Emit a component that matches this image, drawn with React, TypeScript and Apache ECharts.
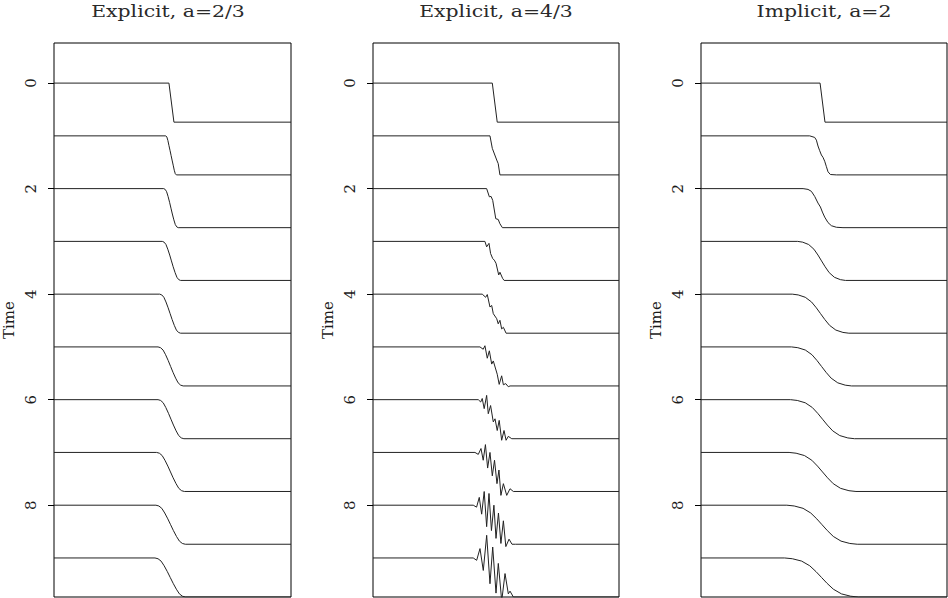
import React, { useEffect, useRef } from "react";
import * as echarts from "echarts";

// Panel titles
const TITLES = ["Explicit, a=2/3", "Explicit, a=4/3", "Implicit, a=2"];
// Trace times (one trace per time step)
const TIMES = [0, 1, 2, 3, 4, 5, 6, 7, 8, 9];
// Tick labels on the time axis
const TICK_VALUES = [0, 2, 4, 6, 8];
// Trace amplitude (time units for a unit step)
const AMP = 0.74;
const TIME_MIN = -0.76;
const TIME_MAX = 9.74;

// Each trace: [space (0..1), value (0..1)] points across the transition
const explicitStable: number[][][] = [
  [[0.485, 0], [0.506, 1]],
  [[0.4717, 0], [0.4762, 0.03], [0.4806, 0.12], [0.4851, 0.25], [0.4898, 0.38], [0.494, 0.5], [0.4982, 0.62], [0.5029, 0.75], [0.5074, 0.88], [0.5118, 0.97], [0.5163, 1]],
  [[0.463, 0], [0.4691, 0.02], [0.4752, 0.08], [0.4813, 0.2], [0.4877, 0.35], [0.4935, 0.5], [0.4993, 0.65], [0.5057, 0.8], [0.5118, 0.92], [0.5179, 0.98], [0.524, 1]],
  [[0.457, 0], [0.4647, 0.02], [0.4724, 0.08], [0.4801, 0.2], [0.4882, 0.35], [0.4955, 0.5], [0.5028, 0.65], [0.5109, 0.8], [0.5186, 0.92], [0.5263, 0.98], [0.534, 1]],
  [[0.446, 0], [0.4548, 0.02], [0.4636, 0.08], [0.4724, 0.2], [0.4816, 0.35], [0.49, 0.5], [0.4984, 0.65], [0.5076, 0.8], [0.5164, 0.92], [0.5252, 0.98], [0.534, 1]],
  [[0.439, 0], [0.4496, 0.02], [0.4602, 0.08], [0.4708, 0.2], [0.4819, 0.35], [0.492, 0.5], [0.5021, 0.65], [0.5132, 0.8], [0.5238, 0.92], [0.5344, 0.98], [0.545, 1]],
  [[0.439, 0], [0.4499, 0.02], [0.4608, 0.08], [0.4717, 0.2], [0.4831, 0.35], [0.4935, 0.5], [0.5039, 0.65], [0.5153, 0.8], [0.5262, 0.92], [0.5371, 0.98], [0.548, 1]],
  [[0.433, 0], [0.4447, 0.02], [0.4564, 0.08], [0.4681, 0.2], [0.4804, 0.35], [0.4915, 0.5], [0.5026, 0.65], [0.5149, 0.8], [0.5266, 0.92], [0.5383, 0.98], [0.55, 1]],
  [[0.43, 0], [0.4424, 0.02], [0.4548, 0.08], [0.4672, 0.2], [0.4802, 0.35], [0.492, 0.5], [0.5038, 0.65], [0.5168, 0.8], [0.5292, 0.92], [0.5416, 0.98], [0.554, 1]],
  [[0.426, 0], [0.4389, 0.02], [0.4518, 0.08], [0.4647, 0.2], [0.4782, 0.35], [0.4905, 0.5], [0.5028, 0.65], [0.5163, 0.8], [0.5292, 0.92], [0.5421, 0.98], [0.555, 1]],
];

const explicitUnstable: number[][][] = [
  [[0.485, 0], [0.505, 1]],
  [[0.4755, 0], [0.485, 0.32], [0.503, 0.62], [0.509, 0.71], [0.516, 1]],
  [[0.462, 0], [0.473, 0.21], [0.48, 0.2], [0.4866, 0.3], [0.499, 0.77], [0.509, 0.79], [0.516, 0.9], [0.526, 1]],
  [[0.455, 0], [0.462, 0.14], [0.4715, 0.05], [0.478, 0.31], [0.4866, 0.44], [0.493, 0.48], [0.5, 0.56], [0.511, 0.86], [0.516, 0.79], [0.527, 0.95], [0.533, 1]],
  [[0.444, 0], [0.458, 0.08], [0.4645, 0.01], [0.4755, 0.33], [0.4825, 0.29], [0.489, 0.5], [0.503, 0.63], [0.509, 0.76], [0.516, 0.67], [0.523, 0.89], [0.53, 0.85], [0.541, 1]],
  [[0.4348, 0], [0.448, 0.06], [0.455, -0.03], [0.4645, 0.29], [0.473, 0.1], [0.4825, 0.44], [0.489, 0.36], [0.505, 0.7], [0.513, 0.96], [0.523, 0.74], [0.53, 0.97], [0.5395, 0.94], [0.55, 1.02], [0.557, 1]],
  [[0.428, 0], [0.4377, 0.06], [0.444, -0.03], [0.452, 0.23], [0.462, -0.11], [0.4686, 0.36], [0.478, 0.15], [0.489, 0.57], [0.496, 0.49], [0.505, 0.79], [0.513, 0.53], [0.523, 1.04], [0.5326, 0.79], [0.541, 1.04], [0.55, 0.94], [0.564, 1]],
  [[0.4144, 0], [0.428, 0.05], [0.439, -0.1], [0.448, 0.2], [0.457, -0.2], [0.466, 0.4], [0.4755, 0.0], [0.485, 0.6], [0.494, 0.2], [0.504, 0.8], [0.512, 0.45], [0.52, 1.1], [0.53, 0.8], [0.5436, 1.1], [0.557, 0.93], [0.5705, 1]],
  [[0.4075, 0], [0.421, 0.05], [0.432, -0.2], [0.4417, 0.23], [0.452, -0.35], [0.462, 0.55], [0.4715, -0.3], [0.4815, 0.65], [0.4915, 0.0], [0.5, 0.85], [0.51, 0.2], [0.52, 0.98], [0.53, 0.4], [0.54, 1.06], [0.553, 0.87], [0.565, 1.0], [0.58, 1]],
  [[0.4075, 0], [0.4214, 0.06], [0.4349, -0.24], [0.4483, 0.32], [0.4621, -0.58], [0.4755, 0.66], [0.4866, -0.28], [0.5, 0.9], [0.5094, 0.14], [0.5232, 1.1], [0.5367, 0.4], [0.5501, 0.92], [0.557, 0.85], [0.5705, 1.0]],
];

const implicitStable: number[][][] = [
  [[0.484, 0], [0.504, 1]],
  [[0.4419, 0], [0.4622, 0.04], [0.4691, 0.11], [0.4756, 0.26], [0.4825, 0.38], [0.4894, 0.49], [0.4959, 0.55], [0.5028, 0.65], [0.5098, 0.79], [0.5163, 0.92], [0.526, 0.99], [0.5504, 1]],
  [[0.415, 0], [0.435, 0.02], [0.4488, 0.07], [0.4622, 0.2], [0.4756, 0.37], [0.4854, 0.47], [0.4935, 0.6], [0.5028, 0.73], [0.5163, 0.87], [0.5301, 0.95], [0.5504, 0.99], [0.5772, 1]],
  [[0.393, 0], [0.4134, 0.02], [0.4376, 0.08], [0.459, 0.2], [0.4755, 0.35], [0.49, 0.5], [0.5046, 0.65], [0.521, 0.8], [0.5424, 0.92], [0.5666, 0.98], [0.587, 1]],
  [[0.371, 0], [0.3952, 0.02], [0.4239, 0.08], [0.4492, 0.2], [0.4688, 0.35], [0.486, 0.5], [0.5033, 0.65], [0.5228, 0.8], [0.5481, 0.92], [0.5769, 0.98], [0.601, 1]],
  [[0.368, 0], [0.3936, 0.02], [0.4241, 0.08], [0.451, 0.2], [0.4717, 0.35], [0.49, 0.5], [0.5083, 0.65], [0.529, 0.8], [0.5559, 0.92], [0.5864, 0.98], [0.612, 1]],
  [[0.364, 0], [0.3913, 0.02], [0.4238, 0.08], [0.4524, 0.2], [0.4745, 0.35], [0.494, 0.5], [0.5135, 0.65], [0.5356, 0.8], [0.5642, 0.92], [0.5967, 0.98], [0.624, 1]],
  [[0.358, 0], [0.3866, 0.02], [0.4206, 0.08], [0.4505, 0.2], [0.4736, 0.35], [0.494, 0.5], [0.5144, 0.65], [0.5375, 0.8], [0.5674, 0.92], [0.6014, 0.98], [0.63, 1]],
  [[0.349, 0], [0.379, 0.02], [0.4148, 0.08], [0.4462, 0.2], [0.4706, 0.35], [0.492, 0.5], [0.5135, 0.65], [0.5378, 0.8], [0.5692, 0.92], [0.605, 0.98], [0.635, 1]],
  [[0.34, 0], [0.3715, 0.02], [0.409, 0.08], [0.442, 0.2], [0.4675, 0.35], [0.49, 0.5], [0.5125, 0.65], [0.538, 0.8], [0.571, 0.92], [0.6085, 0.98], [0.64, 1]],
];

const PANELS = [explicitStable, explicitUnstable, implicitStable];

const FONT = "DejaVu Serif";
const INK = "#1a1a1a";

export default function App() {
  const ref = useRef<HTMLDivElement>(null);
  useEffect(() => {
    if (!ref.current) return;
    const chart = echarts.init(ref.current, null, { renderer: "svg" });
    const lefts = [45, 373, 701];
    const W = 246;
    const grids = lefts.map((l) => ({
      left: l,
      top: 43,
      width: W,
      height: 554,
      show: true,
      borderColor: "#000",
      borderWidth: 1,
      backgroundColor: "transparent",
    }));
    const xAxes = lefts.map((_, i) => ({
      type: "value",
      gridIndex: i,
      min: 0,
      max: 1,
      show: false,
    }));
    const yAxes = lefts.map((_, i) => ({
      type: "value",
      gridIndex: i,
      inverse: true,
      min: TIME_MIN,
      max: TIME_MAX,
      name: "Time",
      nameLocation: "middle",
      nameGap: 38,
      nameRotate: 90,
      nameTextStyle: { fontFamily: FONT, fontSize: 15, color: INK },
      axisLine: { show: false },
      splitLine: { show: false },
      axisTick: {
        show: true,
        length: 6,
        customValues: TICK_VALUES,
        lineStyle: { color: "#000", width: 1 },
      },
      axisLabel: {
        show: true,
        customValues: TICK_VALUES,
        rotate: 90,
        margin: 16,
        fontFamily: FONT,
        fontSize: 15,
        color: INK,
      },
    }));
    const series: any[] = [];
    PANELS.forEach((traces, p) => {
      traces.forEach((pts, k) => {
        const t = TIMES[k];
        const data = [[0, t], ...pts.map(([x, u]) => [x, t + AMP * u]), [1, t + AMP]];
        series.push({
          type: "line",
          xAxisIndex: p,
          yAxisIndex: p,
          data,
          showSymbol: false,
          symbol: "none",
          smooth: false,
          clip: true,
          lineStyle: { color: "#222", width: 1 },
          silent: true,
        });
      });
    });
    chart.setOption({
      animation: false,
      backgroundColor: "#fff",
      graphic: TITLES.map((t, i) => ({
        type: "text",
        x: lefts[i] + W / 2,
        y: 11,
        scaleX: 1.2,
        silent: true,
        style: {
          text: t,
          fontFamily: FONT,
          fontSize: 17,
          fill: "#2a2a2a",
          textAlign: "center",
          textVerticalAlign: "middle",
        },
      })),
      grid: grids,
      xAxis: xAxes,
      yAxis: yAxes,
      series,
    });
    return () => chart.dispose();
  }, []);
  return (
    <div
      ref={ref}
      style={{ position: "absolute", left: 0, top: 0, width: 948, height: 598 }}
    />
  );
}
